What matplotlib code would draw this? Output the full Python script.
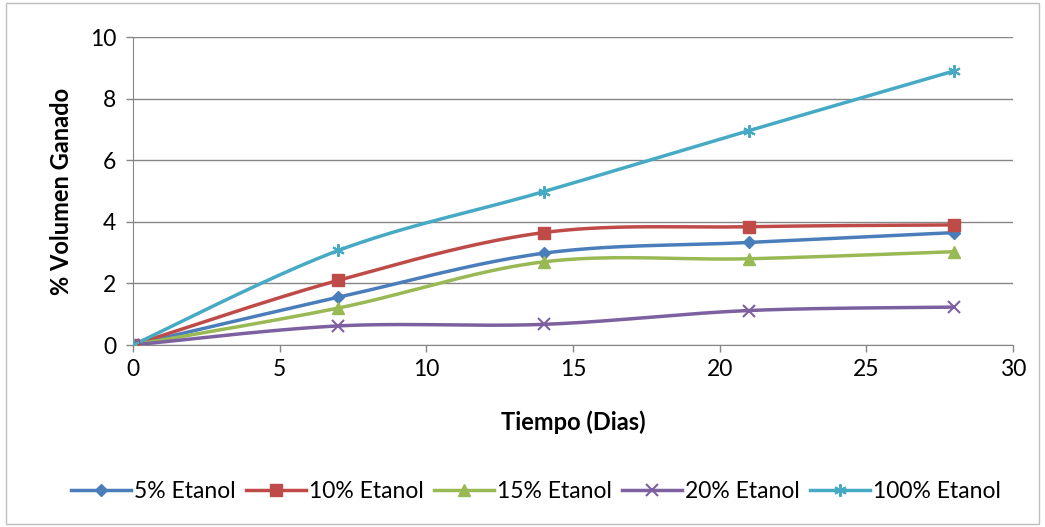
import numpy as np
import matplotlib
matplotlib.use("Agg")
import matplotlib.pyplot as plt
from matplotlib.patches import Rectangle

plt.rcParams['font.family'] = ['Lato', 'DejaVu Sans']

dias = [0, 7, 14, 21, 28]
etanol_5 = [0, 1.55, 2.98, 3.33, 3.65]
etanol_10 = [0, 2.10, 3.65, 3.84, 3.90]
etanol_15 = [0, 1.20, 2.70, 2.80, 3.03]
etanol_20 = [0, 0.62, 0.67, 1.12, 1.23]
etanol_100 = [0, 3.07, 4.98, 6.96, 8.90]

labels = ['5% Etanol', '10% Etanol', '15% Etanol', '20% Etanol', '100% Etanol']
colors = ['#4A7EBB', '#BE4B48', '#98B954', '#7D60A0', '#46AAC5']
markers = ['D', 's', '^', 'x', (6, 2, 0)]
msizes = [6, 8, 8, 8, 9]
series = [etanol_5, etanol_10, etanol_15, etanol_20, etanol_100]


def smooth(x, y, n=40):
    # Excel-style smoothed line: cubic Bezier with Catmull-Rom control points
    x = np.asarray(x, float)
    y = np.asarray(y, float)
    pts = np.column_stack([x, y])
    out = []
    for i in range(len(pts) - 1):
        p0 = pts[i - 1] if i > 0 else pts[i]
        p1 = pts[i]
        p2 = pts[i + 1]
        p3 = pts[i + 2] if i + 2 < len(pts) else pts[i + 1]
        c1 = p1 + (p2 - p0) / 6.0
        c2 = p2 - (p3 - p1) / 6.0
        t = np.linspace(0, 1, n)[:, None]
        seg = ((1 - t) ** 3) * p1 + 3 * ((1 - t) ** 2) * t * c1 + 3 * (1 - t) * t ** 2 * c2 + t ** 3 * p2
        out.append(seg if i == 0 else seg[1:])
    s = np.vstack(out)
    return s[:, 0], s[:, 1]


fig = plt.figure(figsize=(10.45, 5.27), dpi=100)
fig.patches.append(Rectangle((0.006, 0.006), 0.988, 0.988, transform=fig.transFigure,
                             fill=False, edgecolor='#BFBFBF', linewidth=1))
ax = fig.add_axes([133 / 1045, 1 - 345 / 527, (1013 - 133) / 1045, (345 - 37) / 527])

handles = []
for y, lab, c, m, ms in zip(series, labels, colors, markers, msizes):
    mew = 1.5 if (m == 'x' or isinstance(m, tuple)) else 1
    xs, ys = smooth(dias, y)
    ax.plot(xs, ys, color=c, lw=2.5, solid_capstyle='round', zorder=3)
    ax.plot(dias, y, linestyle='none', marker=m, color=c, markersize=ms,
            markeredgewidth=mew, zorder=4)
    h, = ax.plot([], [], color=c, lw=2.5, marker=m, markersize=ms, markeredgewidth=mew)
    handles.append(h)

ax.set_xlim(0, 30)
ax.set_ylim(0, 10)
ax.set_xticks([0, 5, 10, 15, 20, 25, 30])
ax.set_yticks([0, 2, 4, 6, 8, 10])
ax.yaxis.grid(True, color='#868686', lw=1)
ax.set_axisbelow(True)
for s in ['top', 'right']:
    ax.spines[s].set_visible(False)
for s in ['left', 'bottom']:
    ax.spines[s].set_color('#868686')
ax.tick_params(axis='both', colors='#868686', labelcolor='black', labelsize=16.5, length=5, width=1)
ax.tick_params(axis='x', pad=5)
ax.tick_params(axis='y', pad=7)

ax.set_xlabel('Tiempo (Dias)', fontsize=17, fontweight='bold', labelpad=22)
ax.set_ylabel('% Volumen Ganado', fontsize=17, fontweight='bold', labelpad=12)

fig.legend(handles, labels, loc='center', bbox_to_anchor=(0.513, 1 - 492 / 527), ncol=5,
           frameon=False, fontsize=16.5, handlelength=2.6, handletextpad=0.15, columnspacing=0.45)

fig.savefig('out.png', dpi=100)
